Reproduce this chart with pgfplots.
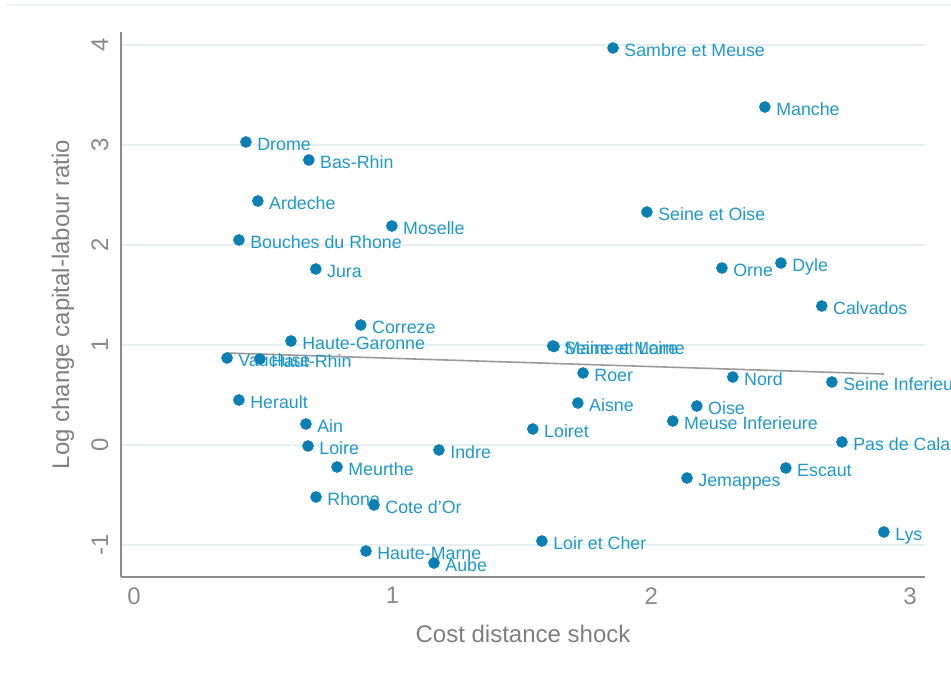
\documentclass[border=0pt]{standalone}
\usepackage{fontspec}
\setmainfont{Liberation Sans}
\usepackage{pgfplots}
\usepackage{pgfplotstable}
\pgfplotsset{compat=1.18}
\definecolor{markc}{HTML}{0A7FB3}
\definecolor{labc}{HTML}{1E98CC}
\definecolor{gridc}{HTML}{E6EFF2}
\definecolor{spinec}{HTML}{8C8C8C}
\definecolor{tickc}{HTML}{8A8A8A}
\definecolor{titc}{HTML}{7F7F7F}
\definecolor{fitc}{HTML}{9A9A9A}
\definecolor{framec}{HTML}{EEF2F3}
\pgfplotstableread[col sep=comma]{
x,y,label
1.852,3.97,Sambre et Meuse
2.439,3.38,Manche
0.433,3.03,Drome
0.676,2.85,Bas-Rhin
0.479,2.44,Ardeche
0.997,2.19,Moselle
1.983,2.33,Seine et Oise
0.406,2.05,Bouches du Rhone
0.703,1.76,Jura
2.273,1.77,Orne
2.501,1.82,Dyle
2.659,1.39,Calvados
0.877,1.20,Correze
0.607,1.04,Haute-Garonne
1.619,0.99,Seine et Marne
1.624,0.985,Maine et Loire
0.360,0.87,Vaucluse
0.487,0.86,Haut-Rhin
1.736,0.72,Roer
2.315,0.68,Nord
2.698,0.63,Seine Inferieure
0.406,0.45,Herault
1.716,0.42,Aisne
2.176,0.39,Oise
0.665,0.21,Ain
2.083,0.24,Meuse Inferieure
1.542,0.16,Loiret
0.673,-0.01,Loire
2.737,0.03,Pas de Calais
1.179,-0.05,Indre
0.785,-0.22,Meurthe
2.520,-0.23,Escaut
2.138,-0.33,Jemappes
0.704,-0.52,Rhone
0.928,-0.60,Cote d'Or
2.899,-0.87,Lys
1.577,-0.96,Loir et Cher
0.897,-1.06,Haute-Marne
1.160,-1.18,Aube
}\data
\begin{document}
\begin{tikzpicture}
\path[use as bounding box] (0,0) rectangle (475.5pt,345.5pt);
\draw[framec, line width=0.8pt] (3pt,343pt) -- (475.5pt,343pt);
\begin{axis}[
  at={(60.5pt,57pt)}, anchor=south west,
  scale only axis, width=402pt, height=272.5pt,
  xmin=-0.05, xmax=3.058, ymin=-1.32, ymax=4.13,
  axis x line*=bottom, axis y line*=left,
  axis line style={spinec, line width=0.8pt, -},
  xtick={0,1,2,3}, ytick={-1,0,1,2,3,4},
  major tick length=0pt,
  ymajorgrids, grid style={gridc, line width=1pt},
  /pgf/number format/assume math mode=true,
  tick label style={font=\fontsize{12}{14}\selectfont, text=tickc},
  xticklabel style={anchor=north, inner sep=0pt, yshift=-5pt},
  yticklabel style={xshift=-6.5pt, rotate=90, anchor=base, inner sep=0pt},
  xlabel={Cost distance shock},
  ylabel={Log change capital-labour ratio},
  every axis x label/.style={at={(axis description cs:0.5,0)}, yshift=-28.5pt, anchor=center,
    font=\fontsize{12}{14}\selectfont, text=titc},
  every axis y label/.style={at={(axis description cs:0,0.5)}, xshift=-26pt, rotate=90, anchor=base,
    font=\fontsize{12}{14}\selectfont, text=titc},
  clip=false,
]
\addplot[fitc, line width=0.8pt] coordinates {(0.36,0.92) (2.899,0.71)};
\addplot[only marks, mark=*, mark size=2.7pt, color=markc,
  nodes near coords, point meta=explicit symbolic,
  every node near coord/.append style={anchor=west, inner sep=0pt, xshift=5.5pt, yshift=-1pt,
    text height=6.4pt, text depth=0pt, font=\fontsize{8.9}{10}\selectfont, text=labc}]
  table[x=x, y=y, meta=label]{\data};
\end{axis}
\end{tikzpicture}
\end{document}
